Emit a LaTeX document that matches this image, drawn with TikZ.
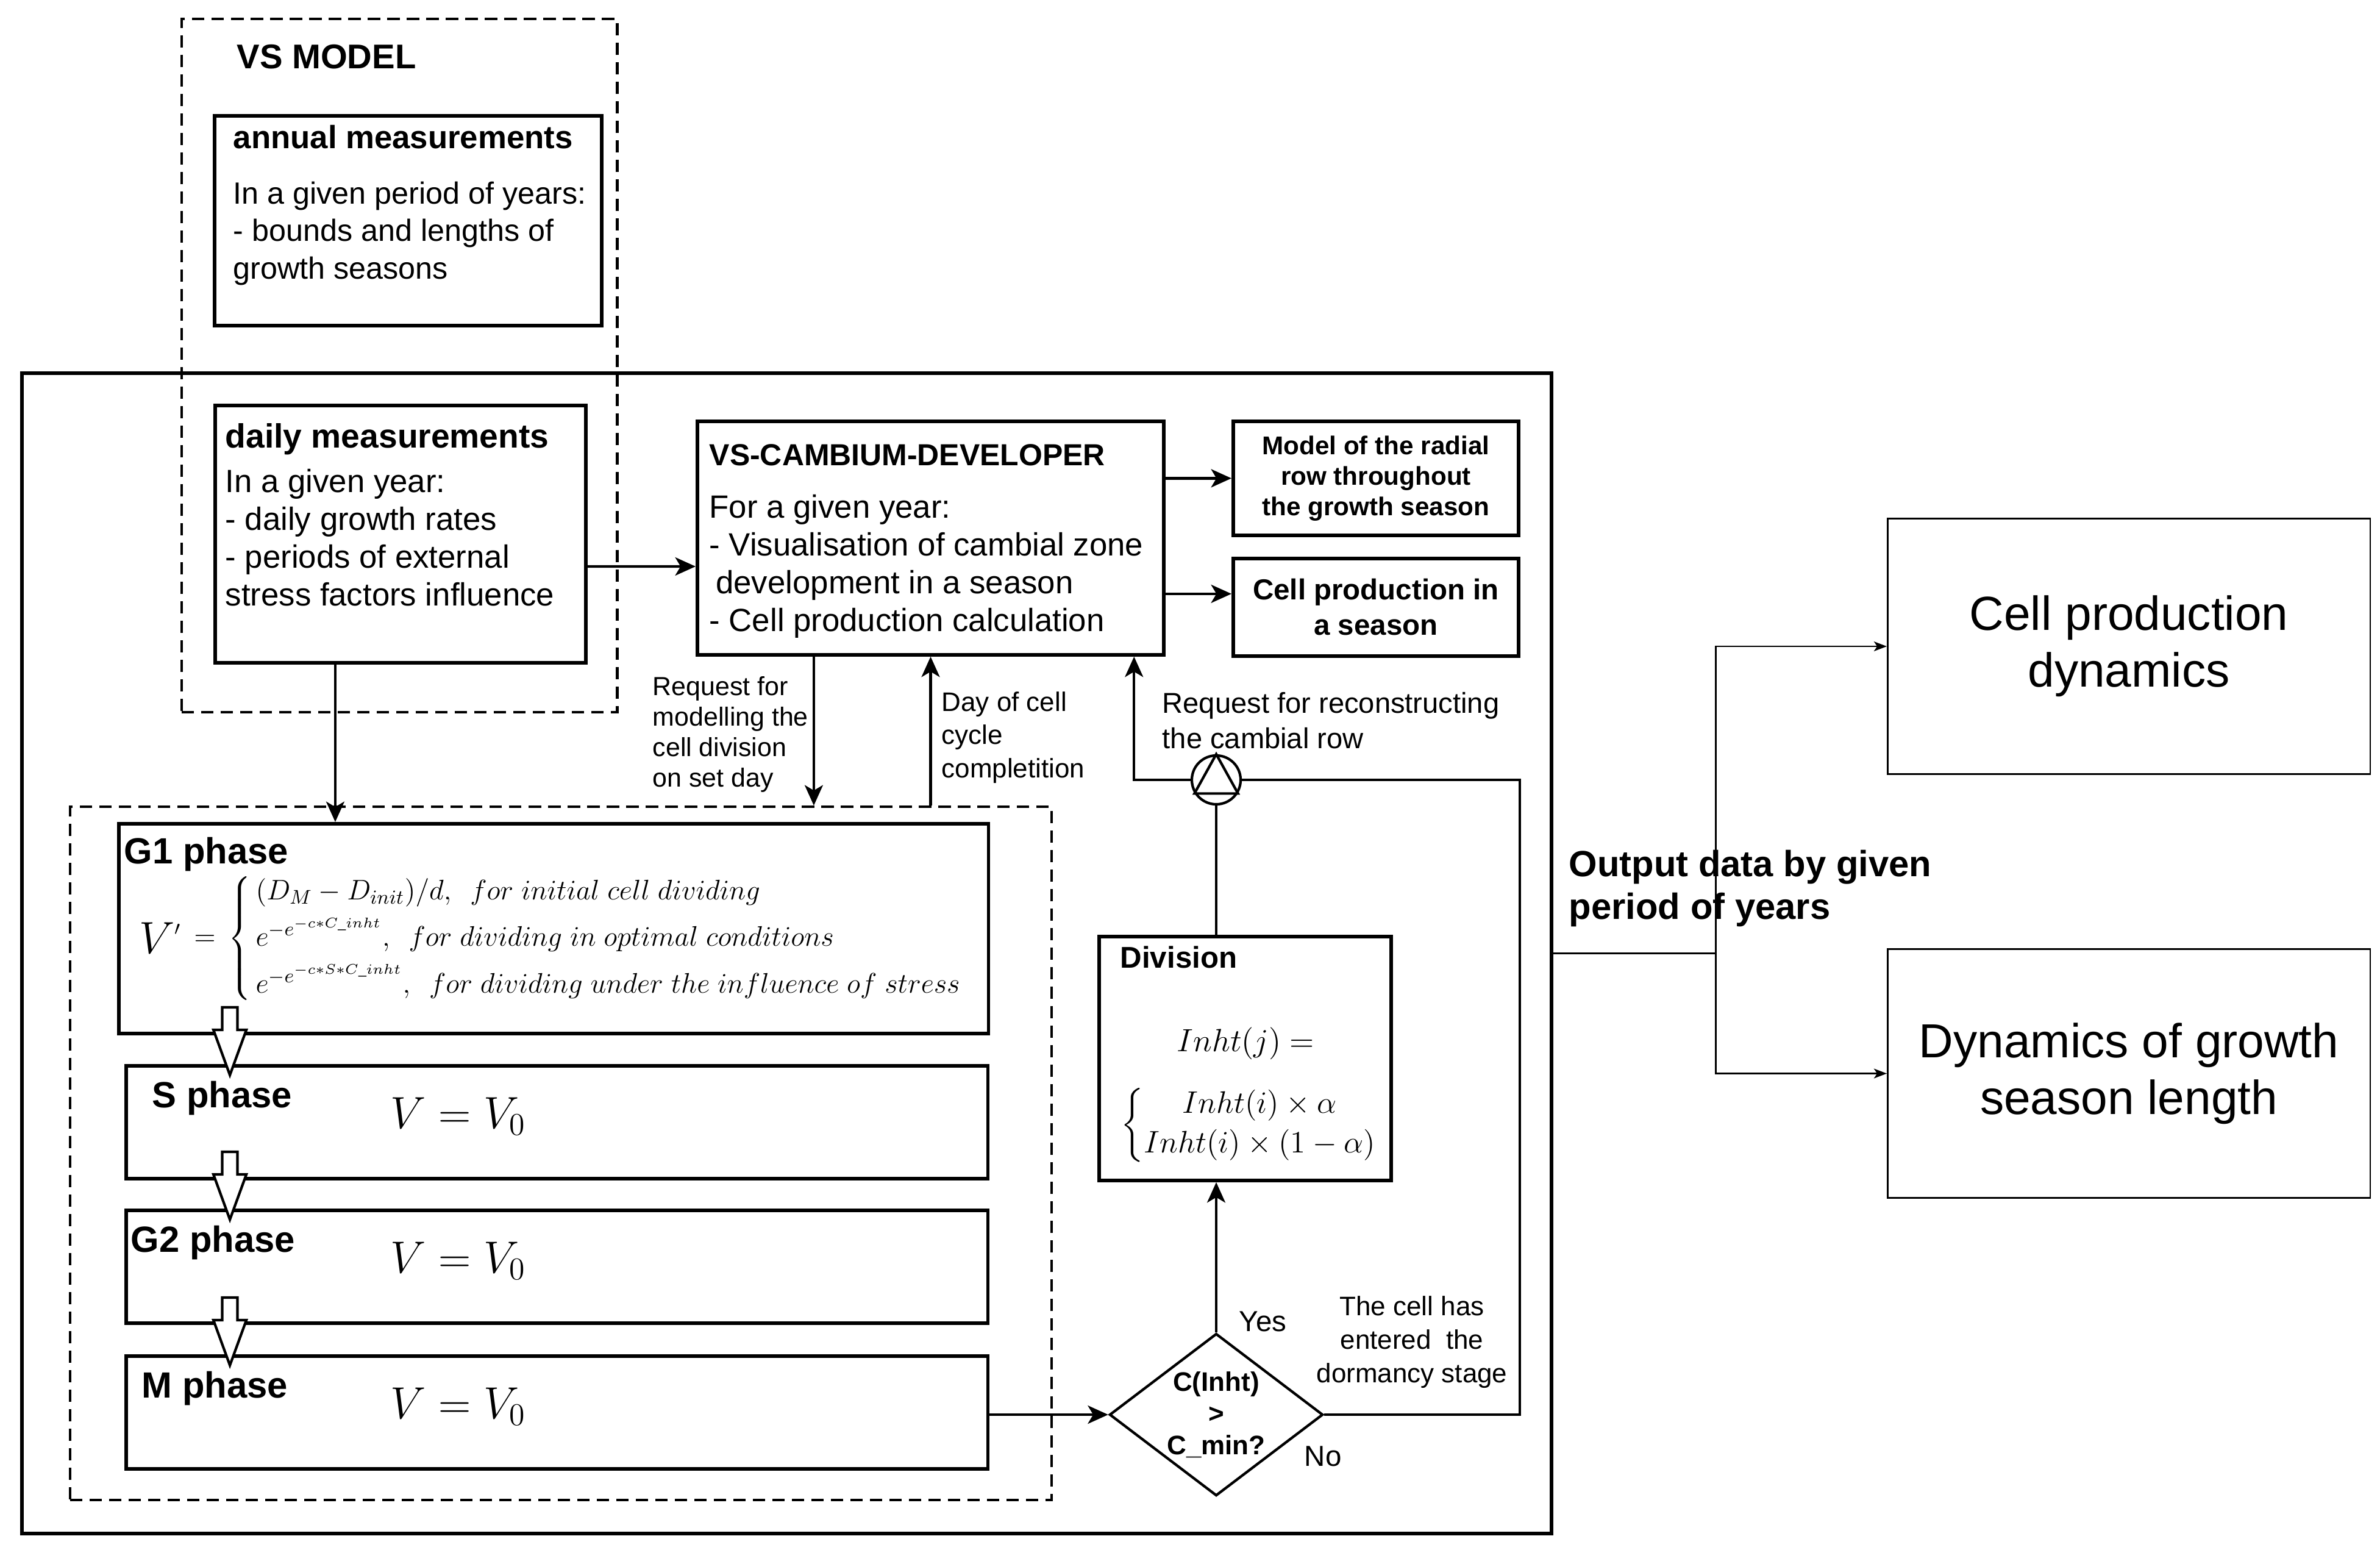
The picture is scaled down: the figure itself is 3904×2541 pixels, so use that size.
\RequirePackage{fix-cm}
\documentclass[tikz,border=0pt]{standalone}
\usepackage{amsmath}
\usepackage[no-math]{fontspec}
\setmainfont{Liberation Sans}
\usetikzlibrary{arrows.meta,shapes.geometric}

\newcommand{\setfs}[2]{\fontsize{#1}{#2}\selectfont}

\begin{document}
\begin{tikzpicture}[x=0.01cm, y=-0.01cm,
    frame/.style={draw, line width=1.6pt, inner sep=0pt, anchor=north west, align=center},
    dashframe/.style={frame, line width=1.2pt, dash pattern=on 5.7pt off 3.4pt},
    outbox/.style={frame, line width=0.8pt, font=\setfs{22.3}{26.5}},
    txt/.style={anchor=base west, inner sep=0pt, align=left},
    head/.style={txt, font=\bfseries\setfs{15}{18}},
    note/.style={txt, font=\setfs{12.2}{14.2}},
    arr/.style={line width=1.2pt, -{Stealth[length=9.5pt, width=8.5pt, inset=2.5pt]}},
    thinarr/.style={line width=0.8pt, -{Stealth[length=6pt, width=4.5pt, inset=1.5pt]}}]

    \useasboundingbox (0,0) rectangle (3904,2541);

    % VS model frame and the yearly input
    % (multi-line texts sit on the baseline of their last line)
    \node[dashframe, minimum width=7.14cm, minimum height=11.36cm] (vsmodel) at (296,29) {};
    \node[head, font=\bfseries\setfs{16}{19}] (vstitle) at (388,112) {VS MODEL};
    \node[frame, minimum width=6.35cm, minimum height=3.44cm] (annual) at (349,187) {};
    \node[head] (annualhd) at (382,243) {annual measurements};
    \node[txt, font=\setfs{14.3}{17.4}] (annualtx) at (382,457) {In a given period of years:\\- bounds and lengths of\\growth seasons};

    % main block
    \node[frame, minimum width=25.08cm, minimum height=19.02cm] (core) at (33,609) {};
    \node[frame, minimum width=6.08cm, minimum height=4.22cm] (daily) at (350,662) {};
    \node[head, font=\bfseries\setfs{15.7}{18}] (dailyhd) at (369,734) {daily measurements};
    \node[txt, font=\setfs{15}{17.6}] (dailytx) at (369,993) {In a given year:\\- daily growth rates\\- periods of external\\stress factors influence};

    \node[frame, minimum width=7.65cm, minimum height=3.83cm] (vscamb) at (1141,688) {};
    \node[head, font=\bfseries\setfs{14.2}{17}] (vscambhd) at (1163,763) {VS-CAMBIUM-DEVELOPER};
    \node[txt, font=\setfs{15}{17.6}] (vscambtx) at (1163,1035) {For a given year:\\- Visualisation of cambial zone\\\hspace*{3pt}development in a season\\- Cell production calculation};

    \node[frame, minimum width=4.68cm, minimum height=1.87cm, font=\bfseries\setfs{12}{14.2}] (model) at (2020,688) {Model of the radial\\row throughout\\the growth season};
    \node[frame, minimum width=4.68cm, minimum height=1.6cm, font=\bfseries\setfs{13.5}{16.5}] (cellseason) at (2020,913) {Cell production in\\a season};

    % cell cycle phases
    \node[dashframe, minimum width=16.09cm, minimum height=11.36cm] (cellcyc) at (113,1321) {};
    \node[frame, minimum width=14.26cm, minimum height=3.44cm] (g1) at (192,1348) {};
    \node[txt, font=\bfseries\setfs{17}{20}] (g1hd) at (203,1416) {G1 phase};
    \node[txt] (g1eq) at (228,1563) {{\setfs{21}{25}$V$}{\setfs{13.2}{15}\raisebox{3.5pt}{$^{\prime}\,=\,\begin{cases}\,(D_M-D_{init})/d,\enspace for\ initial\ cell\ dividing\\[3pt] \,e^{-e^{-c*C\_inht}},\enspace for\ dividing\ in\ optimal\ conditions\\[3pt] \,e^{-e^{-c*S*C\_inht}},\enspace for\ dividing\ under\ the\ influence\ of\ stress\end{cases}$}}};
    \foreach \ph/\lbl/\ytop/\dx in {sph/S phase/1745/45, g2ph/G2 phase/1982/10, mph/M phase/2221/28} {
        \node[frame, minimum width=14.13cm, minimum height=1.85cm] (\ph) at (204,\ytop) {};
        \node[txt, font=\bfseries\setfs{17}{20}] (\ph-hd) at (204+\dx,\ytop+71) {\lbl};
        \node[txt, font=\setfs{21}{25}] (\ph-eq) at (640,\ytop+105) {$V=V_0$};
    }
    % hollow arrows between phases
    \foreach \ph in {sph,g2ph,mph}
        \draw[line width=1.2pt, fill=white] ([xshift=1.73cm, yshift=-0.18cm]\ph.north west) -- ++(27,-74) -- ++(-14.5,0) -- ++(0,-37) -- ++(-25,0) -- ++(0,37) -- ++(-14.5,0) -- cycle;

    % division and decision
    \node[frame, minimum width=4.79cm, minimum height=4cm] (division) at (1800,1533) {};
    \node[txt, font=\bfseries\setfs{14}{17}] (divhd) at (1837,1587) {Division};
    \node[txt] (inhtj) at (1930,1724) {\setfs{15}{18}$Inht(j)=$};
    \node[anchor=west, inner sep=0pt] (inhti) at (1838,1845) {\setfs{14.5}{18.5}$\left\{\begin{array}{@{}c@{}}Inht(i)\times\alpha\\ Inht(i)\times(1-\alpha)\end{array}\right.$};
    \node[diamond, draw, line width=1.2pt, aspect=1.3, minimum width=3.5cm, minimum height=2.66cm, inner sep=0pt, align=center, font=\bfseries\setfs{12.5}{14.8}] (dec) at (1995,2320) {C(Inht)\\>\\C\_min?};
    \node[circle, draw, line width=1.2pt, minimum size=0.8cm, inner sep=0pt] (merge) at (1995,1279) {};
    \draw[line width=1.2pt] (merge.north) -- (merge.-32) -- (merge.212) -- cycle;

    % labels on the links
    \node[note] (reqlbl) at (1070,1290) {Request for\\modelling the\\cell division\\on set day};
    \node[note, font=\setfs{12.5}{15.4}] (daylbl) at (1544,1275) {Day of cell\\cycle\\completition};
    \node[note, font=\setfs{13.4}{16.5}] (reclbl) at (1906,1227) {Request for reconstructing\\the cambial row};
    \node[txt, font=\setfs{13.5}{16}] (yes) at (2032,2183) {Yes};
    \node[txt, font=\setfs{13.5}{16}] (no) at (2139,2404) {No};
    \node[anchor=base, inner sep=0pt, align=center, font=\setfs{12.5}{15.6}] (dormlbl) at (2316,2267) {The cell has\\entered\ \ the\\dormancy stage};

    % outputs over the period of years
    \node[outbox, minimum width=7.91cm, minimum height=4.19cm] (cpd) at (3095,849) {Cell production\\dynamics};
    \node[outbox, minimum width=7.91cm, minimum height=4.08cm] (dgs) at (3095,1555) {Dynamics of growth\\season length};
    \node[txt, font=\bfseries\setfs{17}{19.9}] (outlbl) at (2573,1507) {Output data by given\\period of years};

    % links
    \draw[arr] ([yshift=-0.53cm]daily.east) -- ([yshift=-0.465cm]vscamb.west);
    \draw[arr] (vscamb.east |- model.west) -- (model.west);
    \draw[arr] ([yshift=0.22cm]vscamb.east |- cellseason.west) -- ([yshift=0.22cm]cellseason.west);
    \draw[arr] ([xshift=-1.07cm]daily.south) coordinate (dd) -- (dd |- g1.north);
    \draw[arr] ([xshift=-1.915cm]vscamb.south) coordinate (rq) -- (rq |- cellcyc.north);
    \draw[arr] (vscamb.south |- cellcyc.north) -- (vscamb.south);
    \draw[arr] (merge.west) -| ([xshift=3.335cm]vscamb.south);
    \draw[line width=1.2pt] (merge.south) -- (merge.south |- division.north);
    \draw[arr] (mph.east |- dec.west) -- (dec.west);
    \draw[arr] (dec.north) -- (dec.north |- division.south);
    \draw[line width=1.2pt] (dec.east) -- ++(321,0) |- (merge.east);
    \draw[line width=0.8pt] (core.east) -- ++(266,0) coordinate (split);
    \draw[thinarr] (split) |- (cpd.west);
    \draw[thinarr] (split) |- (dgs.west);
\end{tikzpicture}
\end{document}
